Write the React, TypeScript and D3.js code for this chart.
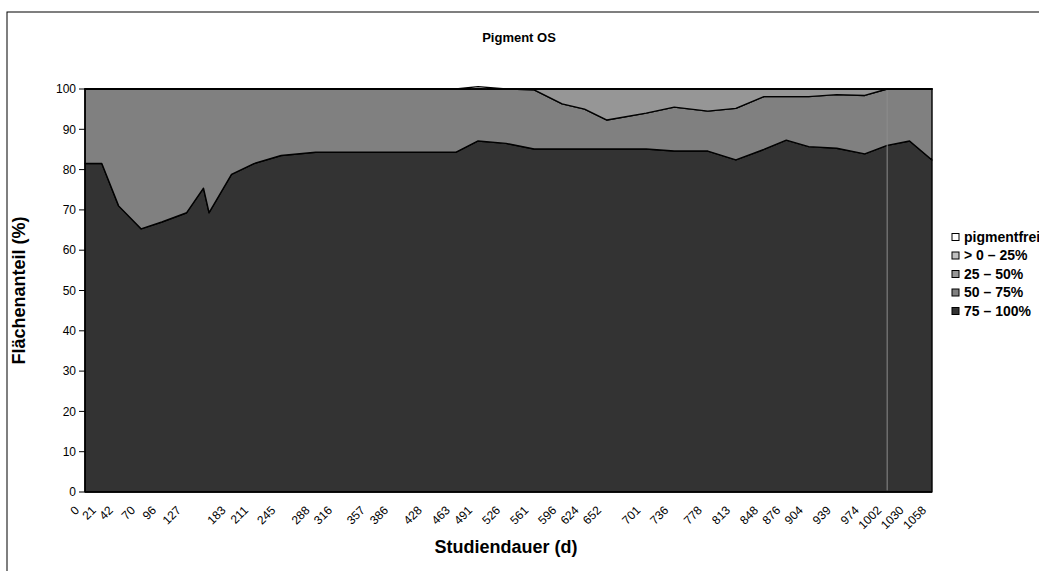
import * as d3 from 'd3';

// Studiendauer (d) of each measurement
const days = [
  0, 21, 42, 70, 96, 127, 148, 155, 183, 211, 245, 288, 316, 357, 386, 428, 463, 491,
  526, 561, 596, 624, 652, 701, 736, 778, 813, 848, 876, 904, 939, 974, 1002, 1030, 1058,
];
// days that carry a label on the x axis
const tickDays = [
  0, 21, 42, 70, 96, 127, 183, 211, 245, 288, 316, 357, 386, 428, 463, 491, 526, 561,
  596, 624, 652, 701, 736, 778, 813, 848, 876, 904, 939, 974, 1002, 1030, 1058,
];
const yTicks = [0, 10, 20, 30, 40, 50, 60, 70, 80, 90, 100];

const p75to100 = [
  81.5, 81.5, 71, 65.3, 67, 69.3, 75.4, 69.3, 78.8, 81.5, 83.5, 84.3, 84.3, 84.3, 84.3, 84.3, 84.3, 87.1,
  86.5, 85.1, 85.1, 85.1, 85.1, 85.1, 84.6, 84.6, 82.4, 85, 87.3, 85.7, 85.3, 83.9, 86, 87.1, 82.4,
];
const p50to75 = [
  18.5, 18.5, 29, 34.7, 33, 30.7, 24.6, 30.7, 21.2, 18.5, 16.5, 15.7, 15.7, 15.7, 15.7, 15.7, 15.7, 12.9,
  13.5, 14.7, 11.2, 9.9, 7.2, 8.9, 10.9, 9.9, 12.8, 13.1, 10.8, 12.4, 13.3, 14.5, 14, 12.9, 17.6,
];
const p25to50 = [
  0, 0, 0, 0, 0, 0, 0, 0, 0, 0, 0, 0, 0, 0, 0, 0, 0, 0,
  0, 0.2, 3.7, 5, 7.7, 6, 4.5, 5.5, 4.8, 1.9, 1.9, 1.9, 1.4, 1.6, 0, 0, 0,
];
const p0to25 = [
  0, 0, 0, 0, 0, 0, 0, 0, 0, 0, 0, 0, 0, 0, 0, 0, 0, 0.1,
  0, 0, 0, 0, 0, 0, 0, 0, 0, 0, 0, 0, 0, 0, 0, 0, 0,
];
const pigmentfrei = [
  0, 0, 0, 0, 0, 0, 0, 0, 0, 0, 0, 0, 0, 0, 0, 0, 0, 0.5,
  0, 0, 0, 0, 0, 0, 0, 0, 0, 0, 0, 0, 0, 0, 0, 0, 0,
];

const series = [
  { key: '75 – 100%', values: p75to100, color: '#333333' },
  { key: '50 – 75%', values: p50to75, color: '#808080' },
  { key: '25 – 50%', values: p25to50, color: '#969696' },
  { key: '> 0 – 25%', values: p0to25, color: '#c0c0c0' },
  { key: 'pigmentfrei', values: pigmentfrei, color: '#ffffff' },
];

const W = 1039;
const H = 571;
const plot = { left: 85, right: 932, top: 89, bottom: 492 };
const font = '"Liberation Sans", Arial, sans-serif';

export default function App() {
  const x = d3.scaleLinear().domain([0, 1058]).range([plot.left, plot.right]);
  const y = d3.scaleLinear().domain([0, 100]).range([plot.bottom, plot.top]);

  const table = days.map((d, i) => {
    const row: Record<string, number> = { day: d };
    series.forEach((s) => (row[s.key] = s.values[i]));
    return row;
  });
  const stacked = d3.stack<Record<string, number>>().keys(series.map((s) => s.key))(table);

  const area = d3
    .area<d3.SeriesPoint<Record<string, number>>>()
    .x((d) => x(d.data.day))
    .y0((d) => y(d[0]))
    .y1((d) => y(d[1]));

  const legend = [...series].reverse();

  return (
    <svg
      width={W}
      height={H}
      style={{ position: 'absolute', left: 0, top: 0, background: '#fff' }}
      fontFamily={font}
    >
      <rect x={7} y={12} width={W + 20} height={H} fill="none" stroke="#000" strokeWidth={1} />

      <text x={519} y={42} textAnchor="middle" fontSize={13} fontWeight="bold">
        Pigment OS
      </text>

      {stacked.map((layer, i) => (
        <path
          key={layer.key}
          d={area(layer) ?? ''}
          fill={series[i].color}
          stroke="#000"
          strokeWidth={1.4}
          strokeLinejoin="round"
        />
      ))}

      {/* light seam visible in the original at day 1002 */}
      <line
        x1={x(1002)}
        x2={x(1002)}
        y1={y(99.6)}
        y2={y(0.4)}
        stroke="#8c8c8c"
        strokeWidth={1}
      />

      {/* y axis */}
      <line x1={plot.left} x2={plot.left} y1={plot.top} y2={plot.bottom} stroke="#000" strokeWidth={1.5} />
      {yTicks.map((t) => (
        <g key={t}>
          <line x1={plot.left - 6} x2={plot.left} y1={y(t)} y2={y(t)} stroke="#000" />
          <text x={plot.left - 9} y={y(t)} dy="0.35em" textAnchor="end" fontSize={12}>
            {t}
          </text>
        </g>
      ))}

      {/* x axis */}
      <line x1={plot.left} x2={plot.right} y1={plot.bottom} y2={plot.bottom} stroke="#000" strokeWidth={1.5} />
      {tickDays.map((d) => (
        <text
          key={d}
          transform={`translate(${x(d) - 5},${plot.bottom + 19}) rotate(-45)`}
          textAnchor="end"
          fontSize={12}
        >
          {d}
        </text>
      ))}

      <text x={506} y={553} textAnchor="middle" fontSize={18} fontWeight="bold">
        Studiendauer (d)
      </text>
      <text
        transform={`translate(25,${(plot.top + plot.bottom) / 2}) rotate(-90)`}
        textAnchor="middle"
        fontSize={18}
        fontWeight="bold"
      >
        Flächenanteil (%)
      </text>

      {legend.map((s, i) => (
        <g key={s.key} transform={`translate(952,${237 + i * 18.5})`}>
          <rect x={0} y={-3.5} width={7} height={7} fill={s.color} stroke="#000" strokeWidth={1} />
          <text x={12} y={0} dy="0.35em" fontSize={14} fontWeight="bold">
            {s.key}
          </text>
        </g>
      ))}
    </svg>
  );
}
